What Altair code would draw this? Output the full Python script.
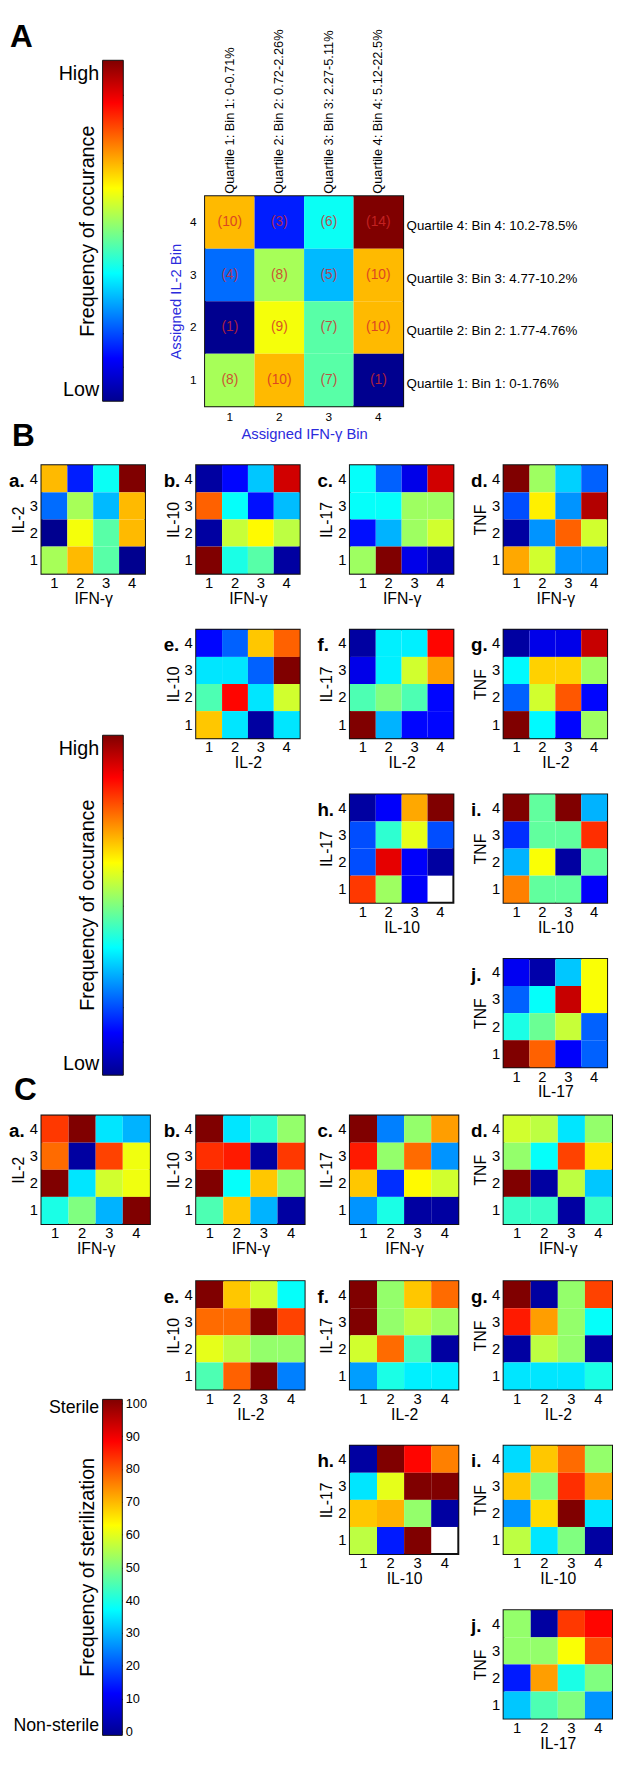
import altair as alt
import pandas as pd

FONT = "Liberation Sans"
JET = ["#00008f", "#0000ff", "#00ffff", "#ffff00", "#ff0000", "#800000"]
STOPS = [0, 0.125, 0.375, 0.625, 0.875, 1]
BINS = [1, 2, 3, 4]

# ---------------- Panel A (counts, rows from bin 4 at top down to bin 1)
a_counts = [[10, 3, 6, 14], [4, 8, 5, 10], [1, 9, 7, 10], [8, 10, 7, 1]]
a_col_labels = ["Quartile 1: Bin 1: 0-0.71%", "Quartile 2: Bin 2: 0.72-2.26%",
                "Quartile 3: Bin 3: 2.27-5.11%", "Quartile 4: Bin 4: 5.12-22.5%"]
a_row_labels = ["Quartile 1: Bin 1: 0-1.76%", "Quartile 2: Bin 2: 1.77-4.76%",
                "Quartile 3: Bin 3: 4.77-10.2%", "Quartile 4: Bin 4: 10.2-78.5%"]

# ---------------- Panel B (relative frequency of occurrence, % of colour scale)
b_b = [[2, 13, 32, 92], [78, 38, 14, 31], [2, 57, 63, 56], [100, 40, 46, 2]]
b_c = [[38, 22, 10, 92], [38, 38, 53, 53], [14, 30, 53, 58], [53, 100, 10, 4]]
b_d = [[100, 53, 33, 22], [20, 64, 27, 95], [2, 27, 78, 58], [71, 58, 27, 27]]
b_e = [[13, 22, 68, 78], [35, 35, 22, 100], [45, 87, 35, 58], [68, 35, 2, 35]]
b_f = [[2, 36, 36, 87], [10, 36, 58, 72], [45, 50, 45, 13], [100, 30, 13, 13]]
b_g = [[2, 10, 10, 93], [37, 67, 67, 53], [22, 58, 79, 13], [100, 37, 13, 53]]
b_h = [[2, 12, 71, 100], [20, 42, 60, 20], [20, 90, 12, 2], [82, 53, 12, None]]
b_i = [[100, 47, 100, 30], [17, 47, 47, 83], [30, 62, 2, 47], [75, 47, 47, 12]]
b_j = [[11, 3, 32, 62], [22, 38, 93, 62], [40, 48, 57, 22], [100, 78, 12, 22]]

# ---------------- Panel C (frequency of sterilization, %)
c_a = [[82, 100, 35, 30], [77, 2, 81, 61], [100, 35, 58, 61], [40, 50, 30, 100]]
c_b = [[100, 35, 42, 52], [83, 85, 2, 82], [100, 38, 68, 52], [45, 68, 30, 2]]
c_c = [[100, 25, 52, 72], [85, 52, 77, 27], [68, 17, 63, 58], [27, 40, 2, 2]]
c_d = [[58, 56, 35, 52], [52, 38, 81, 65], [100, 2, 56, 32], [43, 43, 2, 43]]
c_e = [[100, 68, 58, 38], [77, 77, 100, 81], [60, 56, 52, 52], [45, 78, 100, 25]]
c_f = [[100, 52, 68, 77], [100, 52, 56, 53], [58, 77, 44, 2], [28, 40, 36, 36]]
c_g = [[100, 2, 52, 81], [85, 72, 52, 38], [2, 56, 52, 2], [35, 35, 35, 40]]
c_h = [[2, 100, 87, 75], [35, 60, 100, 100], [68, 70, 52, 2], [56, 15, 100, None]]
c_i = [[34, 68, 77, 52], [68, 50, 83, 72], [27, 66, 100, 35], [56, 35, 50, 2]]
c_j = [[52, 2, 82, 87], [52, 52, 62, 80], [15, 72, 40, 50], [32, 45, 50, 27]]

c_ticks = [0, 10, 20, 30, 40, 50, 60, 70, 80, 90, 100]


def grid_df(grid):
    recs = []
    n = len(grid)
    for r, row in enumerate(grid):
        for c, v in enumerate(row):
            if v is not None:
                recs.append({"x": BINS[c], "y": BINS[n - 1 - r], "v": v,
                             "lbl": "(" + str(v) + ")"})
    return pd.DataFrame(recs)


def jet_scale(lo, hi):
    return alt.Scale(domain=[lo + s * (hi - lo) for s in STOPS], range=JET,
                     interpolate="rgb")


def sp(w, h, title=None):
    ch = alt.Chart(pd.DataFrame({"s": [0]})).mark_point(size=0, opacity=0).properties(
        width=w, height=h, view=alt.ViewBackground(stroke="transparent"))
    if title is not None:
        ch = ch.properties(title=title)
    return ch


def panel(grid, lo, hi, xt, yt, tag, w, h):
    df = grid_df(grid)
    xa = alt.Axis(title=xt, labelAngle=0, ticks=False, domain=False, labelFontSize=15,
                  titleFontSize=16, labelPadding=2, titlePadding=0, titleFontWeight="normal")
    ya = alt.Axis(title=yt, ticks=False, domain=False, labelFontSize=15, titleFontSize=16,
                  labelPadding=4, titlePadding=3, titleFontWeight="normal")
    return alt.Chart(df).mark_rect().encode(
        x=alt.X("x:O", scale=alt.Scale(domain=BINS, paddingInner=0, paddingOuter=0), axis=xa),
        y=alt.Y("y:O", scale=alt.Scale(domain=BINS[::-1], paddingInner=0, paddingOuter=0), axis=ya),
        color=alt.Color("v:Q", scale=jet_scale(lo, hi), legend=None),
    ).properties(
        width=w, height=h, view=alt.ViewBackground(stroke="#111111", strokeWidth=2),
        title=alt.TitleParams(tag, anchor="start", frame="group", dx=-33, dy=15, offset=-26,
                              fontSize=19, fontWeight="bold", baseline="alphabetic"))


def colorbar(w, h, lo, hi, left_vals, left_expr, title, label_fs, right_labels,
             xr=None, yr=None, left_off=0, title_y=None, tag=None):
    df = pd.DataFrame({"lo": [lo], "hi": [hi], "x0": [0], "x1": [1]})
    if yr is None:
        ys = alt.Scale(domain=[lo, hi], nice=False, zero=False)
    else:
        ys = alt.Scale(domain=[lo, hi], nice=False, zero=False, range=yr)
    if xr is None:
        xs = alt.Scale(domain=[0, 1], nice=False, zero=False)
    else:
        xs = alt.Scale(domain=[0, 1], nice=False, zero=False, range=xr)
    grad = alt.LinearGradient(
        gradient="linear",
        stops=[alt.GradientStop(offset=o, color=c) for o, c in zip(STOPS, JET)],
        x1=0, x2=0, y1=1, y2=0)
    if right_labels:
        ra = alt.Axis(orient="right", values=c_ticks, tickSize=5, tickColor="#222222",
                      offset=-5, domain=False, grid=False, title="", labelFontSize=13,
                      labelPadding=3)
    else:
        ra = alt.Axis(orient="right", values=[1, 2, 3, 4, 5, 6, 7, 8, 9], labels=False,
                      tickSize=5, tickColor="#222222", offset=-5, domain=False, grid=False,
                      title="")
    la_kw = dict(orient="left", values=left_vals, labelExpr=left_expr, ticks=False,
                 tickSize=0, domain=False, grid=False, title=title, titleX=-5,
                 titleFontSize=20, titleFontWeight="normal", labelFontSize=label_fs,
                 labelPadding=4, labelBaseline="middle", labelLimit=300)
    if left_off:
        la_kw["offset"] = left_off
    if title_y is not None:
        la_kw["titleY"] = title_y
    la = alt.Axis(**la_kw)
    bar = alt.Chart(df).mark_rect(fill=grad, stroke="#111111", strokeWidth=1).encode(
        x=alt.X("x0:Q", scale=xs, axis=None), x2="x1",
        y=alt.Y("lo:Q", scale=ys, axis=ra), y2="hi")
    side = alt.Chart(df).mark_rect(opacity=0).encode(
        x=alt.X("x0:Q", scale=xs, axis=None), x2="x1",
        y=alt.Y("lo:Q", scale=ys, axis=la), y2="hi")
    ch = alt.layer(side, bar).resolve_axis(y="independent").properties(
        width=w, height=h, view=alt.ViewBackground(stroke="transparent"))
    if tag:
        ch = ch.properties(title=alt.TitleParams(
            tag, anchor="start", frame="group", dx=-94, offset=-19, fontSize=32,
            fontWeight="bold", baseline="alphabetic"))
    return ch


def arr_expr(labels):
    return "[" + ",".join("'" + s + "'" for s in labels) + "][datum.value - 1]"


# ---------------- Heatmap A
dfa = grid_df(a_counts)
blue = "#2b2bdc"
xsA = alt.Scale(domain=BINS, paddingInner=0, paddingOuter=0)
ysA = alt.Scale(domain=BINS[::-1], paddingInner=0, paddingOuter=0)
rectA = alt.Chart(dfa).mark_rect().encode(
    x=alt.X("x:O", scale=xsA, axis=alt.Axis(
        title="Assigned IFN-γ Bin", labelAngle=0, ticks=False, domain=False, labelFontSize=12,
        labelPadding=6, titleFontSize=15, titleColor=blue, titleFontWeight="normal",
        titlePadding=4)),
    y=alt.Y("y:O", scale=ysA, axis=alt.Axis(
        title="Assigned IL-2 Bin", ticks=False, domain=False, labelFontSize=12,
        labelPadding=9, titleFontSize=15, titleColor=blue, titleFontWeight="normal",
        titlePadding=6)),
    color=alt.Color("v:Q", scale=jet_scale(1, 14), legend=None),
)
textA = alt.Chart(dfa).mark_text(fontSize=14, color="#d42a2a", opacity=0.8).encode(
    x=alt.X("x:O", scale=xsA, axis=alt.Axis(
        orient="top", title="", labelAngle=270, labelAlign="left", labelBaseline="middle",
        ticks=False, domain=False, labelFontSize=13, labelPadding=3, labelLimit=400,
        labelExpr=arr_expr(a_col_labels))),
    y=alt.Y("y:O", scale=ysA, axis=alt.Axis(
        orient="right", title="", ticks=False, domain=False, labelFontSize=13.5,
        labelPadding=3, labelLimit=400, labelOffset=4, labelExpr=arr_expr(a_row_labels))),
    text="lbl:N",
)
heatA = alt.layer(rectA, textA).resolve_axis(x="independent", y="independent").properties(
    width=201, height=213, view=alt.ViewBackground(stroke="#111111", strokeWidth=2))

cbA = colorbar(21, 346, 0, 10, [9.62, 0.35], "datum.value > 5 ? 'High' : 'Low'",
               "Frequency of occurance", 20, False, tag="A")
# B colour bar: sits in a grid row starting at the e/f/g panels, bar x 102-123
cbB = colorbar(83, 110, 0, 10, [9.62, 0.35], "datum.value > 5 ? 'High' : 'Low'",
               "Frequency of occurance", 20, False, xr=[62, 83], yr=[452, 107],
               left_off=-62, title_y=279)
# C colour bar: grid row starts at the e/f/g panels of C, bar x 102-122
cbC = colorbar(82, 110, -1.2, 101.2, [98.8, 1.9],
               "datum.value > 50 ? 'Sterile' : 'Non-sterile'",
               "Frequency of sterilization", 18, True, xr=[62, 82], yr=[461, 120],
               left_off=-62, title_y=290)

BW, BH = 105, 110
Ba = panel(a_counts, 1, 14, "IFN-γ", "IL-2", "a.", BW, BH)
Bb = panel(b_b, 0, 100, "IFN-γ", "IL-10", "b.", BW, BH)
Bc = panel(b_c, 0, 100, "IFN-γ", "IL-17", "c.", BW, BH)
Bd = panel(b_d, 0, 100, "IFN-γ", "TNF", "d.", BW, BH)
Be = panel(b_e, 0, 100, "IL-2", "IL-10", "e.", BW, BH)
Bf = panel(b_f, 0, 100, "IL-2", "IL-17", "f.", BW, BH)
Bg = panel(b_g, 0, 100, "IL-2", "TNF", "g.", BW, BH)
Bh = panel(b_h, 0, 100, "IL-10", "IL-17", "h.", BW, BH)
Bi = panel(b_i, 0, 100, "IL-10", "TNF", "i.", BW, BH)
Bj = panel(b_j, 0, 100, "IL-17", "TNF", "j.", BW, BH)

CW, CH = 110, 110
Ca = panel(c_a, 0, 100, "IFN-γ", "IL-2", "a.", CW, CH)
Cb = panel(c_b, 0, 100, "IFN-γ", "IL-10", "b.", CW, CH)
Cc = panel(c_c, 0, 100, "IFN-γ", "IL-17", "c.", CW, CH)
Cd = panel(c_d, 0, 100, "IFN-γ", "TNF", "d.", CW, CH)
Ce = panel(c_e, 0, 100, "IL-2", "IL-10", "e.", CW, CH)
Cf = panel(c_f, 0, 100, "IL-2", "IL-17", "f.", CW, CH)
Cg = panel(c_g, 0, 100, "IL-2", "TNF", "g.", CW, CH)
Ch = panel(c_h, 0, 100, "IL-10", "IL-17", "h.", CW, CH)
Ci = panel(c_i, 0, 100, "IL-10", "TNF", "i.", CW, CH)
Cj = panel(c_j, 0, 100, "IL-17", "TNF", "j.", CW, CH)

# ---------------- Section A: one row (colour bar, heat map)
B_label = alt.TitleParams("B", orient="bottom", anchor="start", frame="group", dx=2,
                          offset=0, fontSize=32, fontWeight="bold", baseline="alphabetic")
heatA_col = alt.vconcat(sp(2, 138), heatA, spacing=0, bounds="flush").resolve_scale(
    x="independent", y="independent", color="independent")
A_section = alt.hconcat(sp(94, 391, title=B_label), cbA, sp(83, 3), heatA_col,
                        spacing=0, bounds="flush").resolve_scale(
    x="independent", y="independent", color="independent")

# ---------------- Sections B and C: one flat grid
col_w = [32, 110, 47, 110, 46, 110, 46, 110]
row_h = [110, 57, 110, 57, 110, 57, 110, 49, 110, 58, 110, 57, 110, 57, 110]
placed = {
    (0, 1): Ba, (0, 3): Bb, (0, 5): Bc, (0, 7): Bd,
    (2, 1): cbB, (2, 3): Be, (2, 5): Bf, (2, 7): Bg,
    (4, 5): Bh, (4, 7): Bi,
    (6, 7): Bj,
    (8, 1): Ca, (8, 3): Cb, (8, 5): Cc, (8, 7): Cd,
    (10, 1): cbC, (10, 3): Ce, (10, 5): Cf, (10, 7): Cg,
    (12, 5): Ch, (12, 7): Ci,
    (14, 7): Cj,
}
C_label = alt.TitleParams("C", anchor="start", frame="group", dx=4, offset=-16,
                          fontSize=32, fontWeight="bold", baseline="alphabetic")
cells = []
for r, rh in enumerate(row_h):
    for c, cw in enumerate(col_w):
        if (r, c) in placed:
            cells.append(placed[(r, c)])
        elif (r, c) == (8, 0):
            cells.append(sp(cw, rh, title=C_label))
        else:
            cells.append(sp(cw, rh))

BC = alt.concat(*cells, columns=len(col_w), align="each", bounds="flush",
                spacing=0).resolve_scale(x="independent", y="independent", color="independent")

chart = alt.vconcat(A_section, BC, spacing=12).resolve_scale(
    x="independent", y="independent", color="independent"
).properties(padding=0).configure(
    font=FONT, background="white"
).configure_view(stroke="transparent").configure_axis(
    labelFont=FONT, titleFont=FONT, labelColor="#000000", titleColor="#000000", grid=False
).configure_title(font=FONT, color="#000000")

chart.save("out.html", embed_options={"renderer": "svg", "actions": False})
